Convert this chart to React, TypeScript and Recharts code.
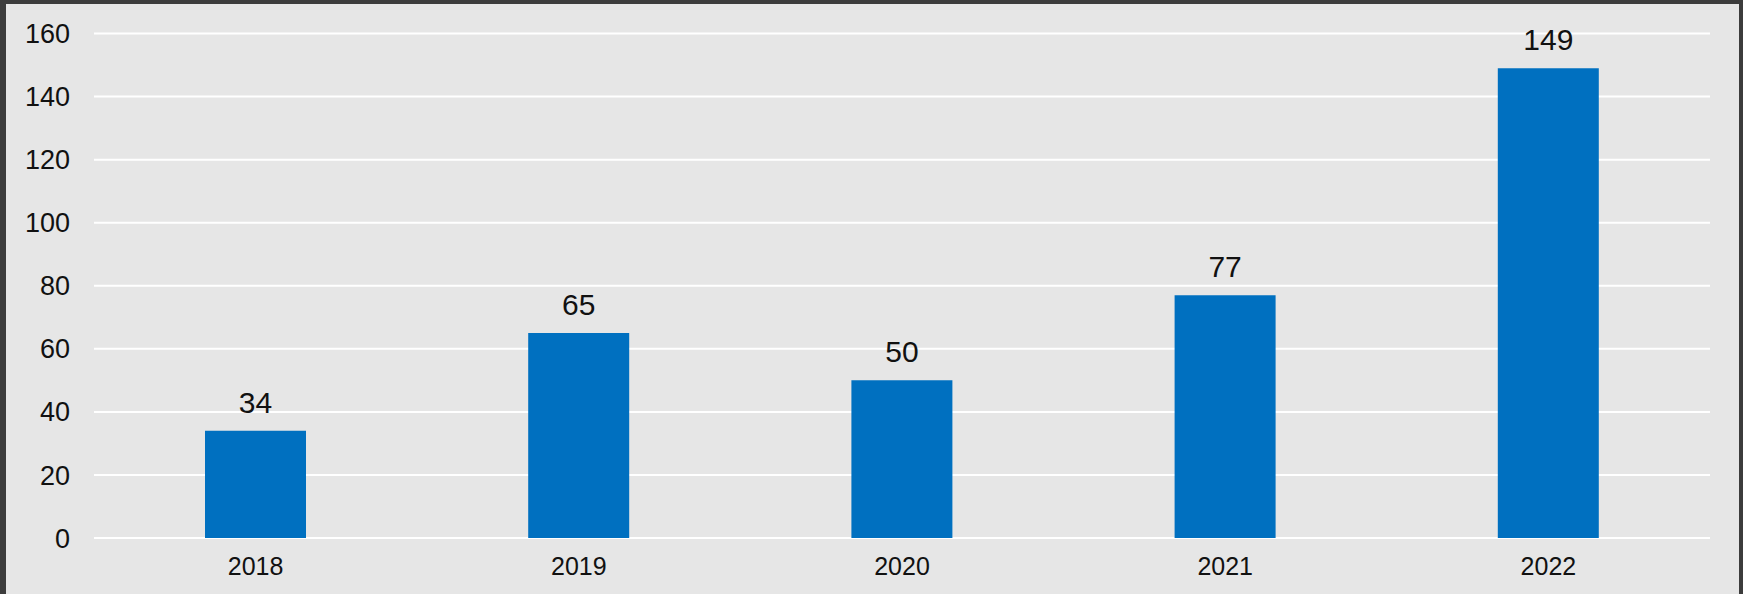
import { Bar, BarChart, CartesianGrid, LabelList, XAxis, YAxis } from 'recharts';

const years = ['2018', '2019', '2020', '2021', '2022'];
const counts = [34, 65, 50, 77, 149];
const yTicks = [0, 20, 40, 60, 80, 100, 120, 140, 160];

const data = years.map((year, i) => ({ year, count: counts[i] }));

const font = '"Liberation Sans", Arial, sans-serif';

export default function App() {
  return (
    <div style={{ position: 'absolute', left: 0, top: 0, width: 1743, height: 594, background: '#3c3c3c' }}>
      <div style={{ position: 'absolute', left: 6, top: 4, width: 1733, height: 590, background: '#e6e6e6' }}>
        <BarChart
          width={1733}
          height={590}
          data={data}
          margin={{ top: 29.5, right: 29, bottom: 0, left: 0 }}
          style={{ fontFamily: font }}
        >
          <CartesianGrid horizontal vertical={false} stroke="#ffffff" strokeWidth={2} />
          <XAxis
            dataKey="year"
            height={56}
            tickLine={false}
            axisLine={false}
            tickSize={0}
            tickMargin={19}
            tick={{ fill: '#111111', fontSize: 25 }}
          />
          <YAxis
            width={88}
            domain={[0, 160]}
            ticks={yTicks}
            interval={0}
            tickLine={false}
            axisLine={false}
            tickSize={0}
            tickMargin={24}
            tick={{ fill: '#111111', fontSize: 27 }}
          />
          <Bar dataKey="count" fill="#0070c0" barSize={101} isAnimationActive={false}>
            <LabelList dataKey="count" position="top" offset={18} fill="#111111" fontSize={30} />
          </Bar>
        </BarChart>
      </div>
    </div>
  );
}
